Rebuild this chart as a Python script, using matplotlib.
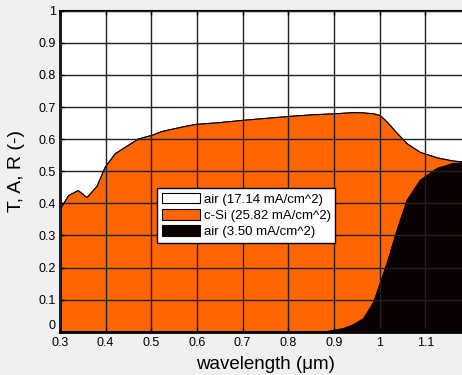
import matplotlib
matplotlib.use('Agg')
import matplotlib.pyplot as plt
import numpy as np

# wavelength (um) and stacked curves
wl = [0.300, 0.318, 0.339, 0.358, 0.380, 0.398, 0.420, 0.442, 0.471, 0.500,
      0.522, 0.560, 0.595, 0.650, 0.700, 0.750, 0.800, 0.850, 0.880, 0.898,
      0.920, 0.942, 0.964, 0.986, 1.000, 1.015, 1.037, 1.059, 1.088, 1.125,
      1.160, 1.200]
# T + A (top of the c-Si band, i.e. 1 - R)
top = [0.384, 0.426, 0.441, 0.419, 0.454, 0.514, 0.556, 0.576, 0.602, 0.613,
       0.625, 0.637, 0.647, 0.653, 0.660, 0.666, 0.672, 0.677, 0.679, 0.680,
       0.682, 0.684, 0.683, 0.680, 0.675, 0.655, 0.620, 0.587, 0.560, 0.543,
       0.533, 0.528]
# transmission into the back air
trans = [0.0, 0.0, 0.0, 0.0, 0.0, 0.0, 0.0, 0.0, 0.0, 0.0,
         0.0, 0.0, 0.0, 0.0, 0.0, 0.0, 0.0, 0.0, 0.001, 0.005,
         0.011, 0.023, 0.042, 0.093, 0.151, 0.213, 0.317, 0.410, 0.473, 0.510,
         0.525, 0.528]

labels = ['air (17.14 mA/cm^2)', 'c-Si (25.82 mA/cm^2)', 'air (3.50 mA/cm^2)']
colors = ['white', '#ff6600', '#0a0000']

xticks = [0.3, 0.4, 0.5, 0.6, 0.7, 0.8, 0.9, 1.0, 1.1]
xticklabels = ['0.3', '0.4', '0.5', '0.6', '0.7', '0.8', '0.9', '1', '1.1']
yticks = [0, 0.1, 0.2, 0.3, 0.4, 0.5, 0.6, 0.7, 0.8, 0.9, 1]
yticklabels = ['0', '0.1', '0.2', '0.3', '0.4', '0.5', '0.6', '0.7', '0.8', '0.9', '1']

plt.rcParams['font.family'] = ['Liberation Sans', 'DejaVu Sans']

wl = np.array(wl)
top = np.array(top)
trans = np.array(trans)

fig = plt.figure(figsize=(4.62, 3.75), dpi=100, facecolor='#f0f0f0')
ax = fig.add_axes([60 / 462, 43.3 / 375, 411 / 462, 321 / 375])

ax.fill_between(wl, top, 1, facecolor=colors[0], edgecolor='black', lw=0.8, label=labels[0])
ax.fill_between(wl, trans, top, facecolor=colors[1], edgecolor='black', lw=0.8, label=labels[1])
ax.fill_between(wl, 0, trans, facecolor=colors[2], edgecolor=colors[2], lw=0.8, label=labels[2])

ax.set_xlim(0.3, 1.2)
ax.set_ylim(0, 1)
ax.set_xticks(xticks)
ax.set_xticklabels(xticklabels)
ax.set_yticks(yticks)
ax.set_yticklabels(yticklabels)
ax.tick_params(direction='in', labelsize=9, length=3, width=1, top=True, pad=3)
ax.tick_params(axis='x', pad=4)
# MATLAB puts the y "0" just above the corner
ax.get_yticklabels()[0].set_verticalalignment('bottom')

ax.set_axisbelow(False)
ax.grid(True, color='#202020', lw=1.0)

for s in ['left', 'bottom']:
    ax.spines[s].set_linewidth(2)
ax.spines['top'].set_linewidth(1.5)
ax.spines['right'].set_visible(False)

ax.set_xlabel('wavelength (\u03bcm)', fontsize=13.5, labelpad=5)
ax.set_ylabel('T, A, R (-)', fontsize=14)
ax.yaxis.set_label_coords(-0.085, 0.5)

leg = ax.legend(loc='upper left', bbox_to_anchor=(0.236, 0.448), fontsize=9.5,
                fancybox=False, framealpha=1, edgecolor='black',
                handlelength=2.9, handleheight=0.9, handletextpad=0.3,
                borderpad=0.35, labelspacing=0.25, borderaxespad=0)
leg.get_frame().set_linewidth(1)
for h in leg.legend_handles:
    h.set_edgecolor('black')

fig.savefig('out.png', dpi=100, facecolor=fig.get_facecolor())
